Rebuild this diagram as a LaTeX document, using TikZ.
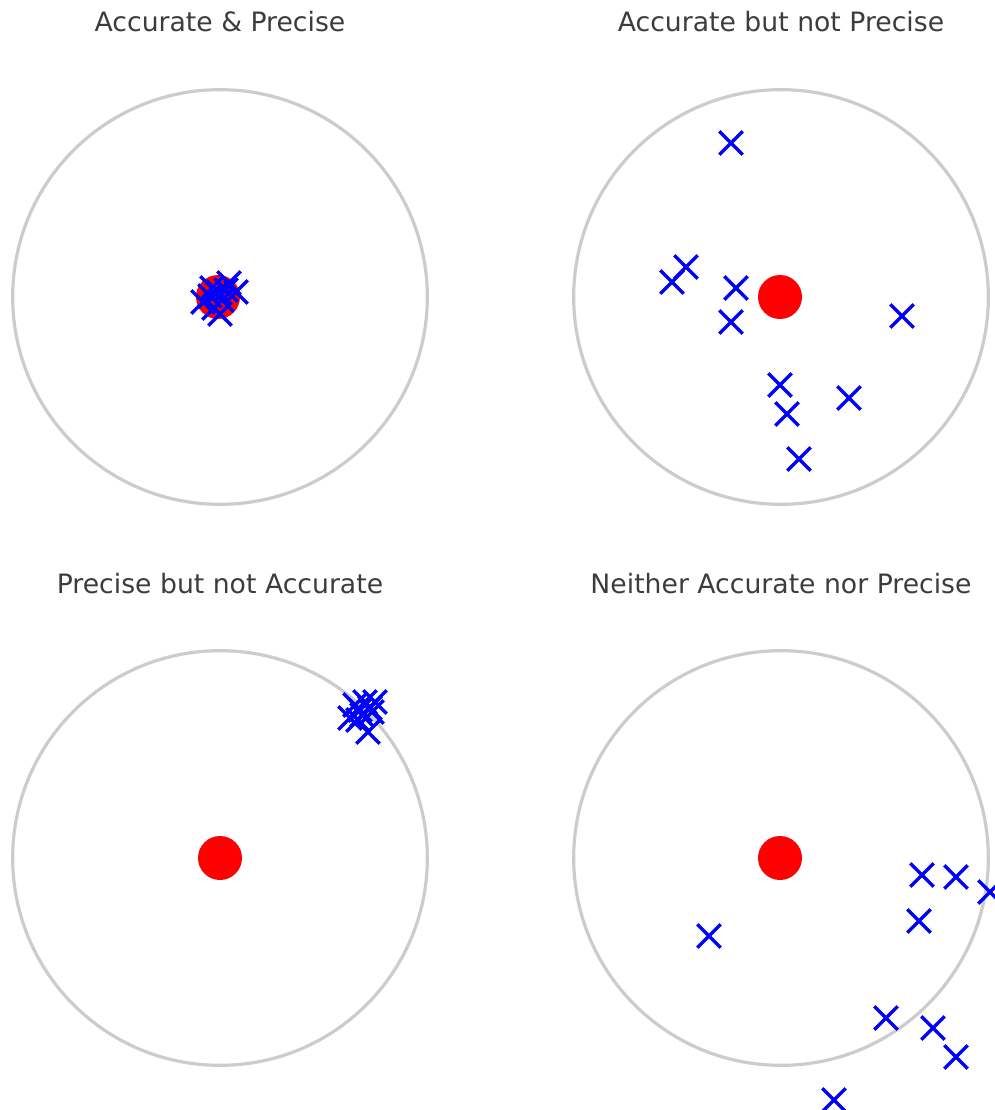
\documentclass[tikz,border=0pt]{standalone}
\usepackage{fontspec}
\setmainfont{DejaVu Sans}
\usetikzlibrary{shapes.misc}
\definecolor{ringgray}{RGB}{204,204,204}
\definecolor{titlegray}{RGB}{60,60,60}
\definecolor{hitblue}{RGB}{0,0,255}
\begin{document}
\begin{tikzpicture}[x=0.75pt,y=-0.75pt,
  ring/.style={circle,draw=ringgray,line width=2.4pt,minimum size=311pt,inner sep=0pt},
  bull/.style={circle,fill=red,minimum size=33pt,inner sep=0pt},
  hit/.style={cross out,draw=hitblue,line width=2.6pt,minimum size=15pt,inner sep=0pt},
  ttl/.style={text=titlegray,font=\fontsize{20}{23}\selectfont,inner sep=0pt}]
\useasboundingbox (0,0) rectangle (995,1110);
\clip (0,0) rectangle (995,1110);
% titles
\node[ttl] (t1) at (220,22) {Accurate \& Precise};
\node[ttl] (t2) at (781,22) {Accurate but not Precise};
\node[ttl] (t3) at (220,584) {Precise but not Accurate};
\node[ttl] (t4) at (781,584) {Neither Accurate nor Precise};
% rings and bulls
\node[ring] (r1) at (220,297) {};
\node[ring] (r2) at (781,297) {};
\node[ring] (r3) at (220,858) {};
\node[ring] (r4) at (781,858) {};
\node[bull] (b1) at (218,297) {};
\node[bull] (b2) at (780,297) {};
\node[bull] (b3) at (220,858) {};
\node[bull] (b4) at (780,858) {};
% panel 1
\foreach \p [count=\i] in {(203,302),(210,296),(214,308),(220,314),(222,300),(226,290),(229,283),(236,292),(218,292),(212,288)}
  \node[hit] (a\i) at \p {};
% panel 2
\foreach \p [count=\i] in {(731,143),(686,267),(672,282),(736,288),(731,322),(902,316),(780,385),(787,414),(849,398),(799,459)}
  \node[hit] (c\i) at \p {};
% panel 3
\foreach \p [count=\i] in {(350,718),(355,705),(360,710),(365,702),(370,708),(375,702),(362,715),(358,720),(368,732),(372,712)}
  \node[hit] (d\i) at \p {};
% panel 4
\foreach \p [count=\i] in {(922,875),(956,877),(990,892),(919,921),(709,936),(886,1018),(933,1028),(956,1057),(834,1100)}
  \node[hit] (e\i) at \p {};
\end{tikzpicture}
\end{document}
